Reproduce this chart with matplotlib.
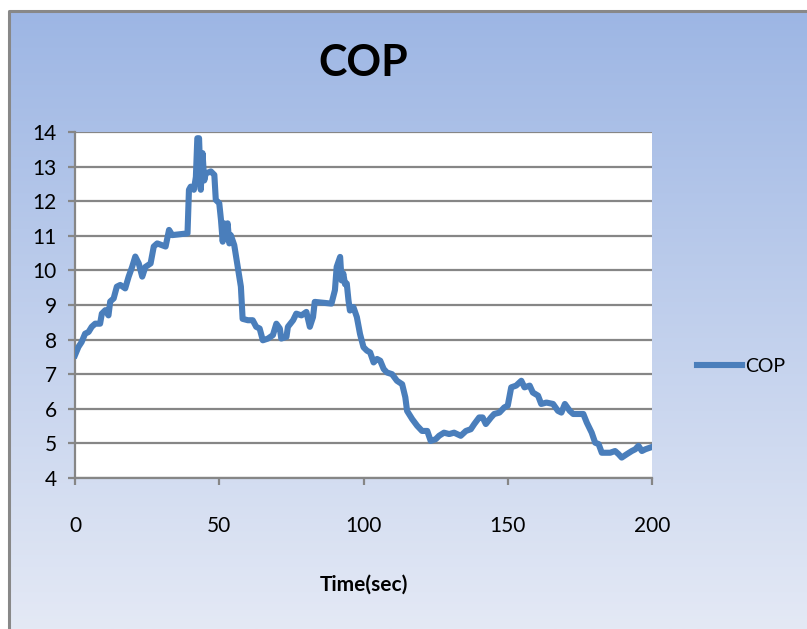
import numpy as np
import matplotlib
matplotlib.use('Agg')
import matplotlib.pyplot as plt

plt.rcParams['font.family'] = ['Lato', 'DejaVu Sans']

# values
time_s = [0, 1.2, 2.3, 3.5, 4.7, 5.8, 7, 8.7, 9.3, 10.5, 11.6, 12.2, 13.4, 14.5, 15.7,
          17.4, 18.6, 19.8, 20.9, 22.1, 23.3, 24.4, 26.2, 27.3, 28.5, 31.4, 32.6, 33.7,
          39, 39.5, 40.1, 41.2, 41.9, 42.4, 43, 43.6, 44.2, 44.8, 45.3, 47.1, 48.3, 48.8,
          50, 50.6, 51.2, 51.7, 52.3, 52.9, 53.5, 54, 55.2, 56.4, 57.5, 58.1, 59.9, 61.6,
          62.8, 64, 65.1, 66.9, 68.6, 69.8, 71, 71.5, 73.3, 73.8, 75.6, 76.7, 78.5, 80.2,
          81.4, 82.5, 83.1, 88.9, 90.1, 90.7, 91.9, 92.4, 93.0, 93.6, 94.2, 94.8, 95.3,
          96.5, 97.7, 98.8, 100, 101.2, 102.3, 103.5, 104.7, 105.8, 107, 108.1, 109.9,
          111.6, 113.4, 114.5, 115.1, 116.9, 118.6, 120.3, 122.1, 123.3, 125, 126.2,
          127.9, 129.7, 131.4, 133.7, 135.5, 137.2, 138.4, 140.1, 141.3, 142.4, 144.2,
          145.3, 147.1, 148.8, 150, 151.2, 152.9, 154.7, 155.8, 157.6, 158.7, 160.5,
          161.6, 163.4, 165.7, 167.4, 168.6, 169.8, 171.5, 172.7, 176.2, 177.4, 179.1,
          180.3, 181.5, 182.6, 185.5, 187.2, 188.4, 189.5, 191.3, 193, 194.2, 195.3,
          196.5, 197.7, 199.4]
cop = [7.55, 7.79, 7.93, 8.17, 8.22, 8.37, 8.46, 8.46, 8.75, 8.85, 8.7, 9.1, 9.19, 9.53, 9.58,
       9.48, 9.82, 10.1, 10.4, 10.2, 9.82, 10.1, 10.2, 10.69, 10.78, 10.69, 11.17, 11.02,
       11.07, 12.33, 12.42, 12.33, 12.7, 13.82, 13.82, 12.33, 13.39, 12.6, 12.8, 12.86, 12.76, 12.04,
       11.94, 11.46, 10.83, 11.36, 11.07, 11.36, 10.78, 11.02, 10.73, 10.1, 9.53, 8.6, 8.56, 8.56,
       8.37, 8.32, 7.98, 8.03, 8.13, 8.46, 8.32, 8.03, 8.08, 8.37, 8.56, 8.75, 8.7, 8.8,
       8.37, 8.65, 9.09, 9.04, 9.43, 10.1, 10.39, 9.71, 9.91, 9.6, 9.62, 9.13, 8.84,
       8.94, 8.65, 8.16, 7.78, 7.68, 7.63, 7.34, 7.44, 7.39, 7.15, 7.05, 7.0,
       6.81, 6.71, 6.33, 5.94, 5.7, 5.51, 5.36, 5.36, 5.07, 5.12, 5.22,
       5.31, 5.27, 5.31, 5.22, 5.36, 5.41, 5.56, 5.75, 5.75, 5.56, 5.75,
       5.85, 5.89, 6.04, 6.09, 6.62, 6.67, 6.81, 6.62, 6.67, 6.47, 6.38,
       6.14, 6.18, 6.14, 5.94, 5.89, 6.14, 5.94, 5.85, 5.85, 5.6, 5.31,
       5.02, 4.98, 4.73, 4.73, 4.78, 4.69, 4.59, 4.69, 4.78, 4.83, 4.93,
       4.78, 4.83, 4.88]

x_ticks = [0, 50, 100, 150, 200]
y_ticks = list(range(4, 15))

W, H = 807, 629
fig = plt.figure(figsize=(W / 100, H / 100), dpi=100)
fig.patch.set_facecolor('white')

# excel-ish gradient background with a grey border
bg = fig.add_axes([0, 0, 1, 1], zorder=-1)
bg.set_xlim(0, W)
bg.set_ylim(H, 0)
bg.axis('off')
top_c = np.array([157, 182, 228]) / 255
bot_c = np.array([228, 233, 245]) / 255
t = np.linspace(0, 1, 256)[:, None]
grad = (top_c[None, :] * (1 - t) + bot_c[None, :] * t)[:, None, :]
bg.imshow(grad, extent=(9, W, H, 11), aspect='auto')
bg.plot([9, 9, W], [H, 11, 11], color='#888888', lw=2.2, solid_capstyle='butt')

ax = fig.add_axes([75 / W, 1 - 478 / H, (652 - 75) / W, (478 - 132) / H])
ax.set_facecolor('white')
ax.plot(time_s, cop, color='#4A7EBB', lw=4.4, solid_joinstyle='round', label='COP', zorder=3)

ax.set_xlim(0, 200)
ax.set_ylim(4, 14)
ax.set_xticks(x_ticks)
ax.set_yticks(y_ticks)
ax.yaxis.grid(True, color='#868686', lw=1.6)
ax.set_axisbelow(True)
for s in ['top', 'right']:
    ax.spines[s].set_visible(False)
for s in ['left', 'bottom']:
    ax.spines[s].set_color('#868686')
    ax.spines[s].set_linewidth(1.6)
ax.tick_params(axis='both', colors='#868686', width=1.6, length=5, labelcolor='black', labelsize=15)
ax.tick_params(axis='x', pad=22)
ax.tick_params(axis='y', pad=8)

ax.set_title('COP', fontsize=31, fontweight='bold', pad=40)
ax.set_xlabel('Time(sec)', fontsize=15, fontweight='bold', labelpad=28)

ax.legend(loc='center left', bbox_to_anchor=(697 / W, 1 - 366 / H), bbox_transform=fig.transFigure,
          frameon=False, fontsize=14, handlelength=2.3, handletextpad=0.15, borderpad=0,
          borderaxespad=0)

fig.savefig('out.png', dpi=100)
